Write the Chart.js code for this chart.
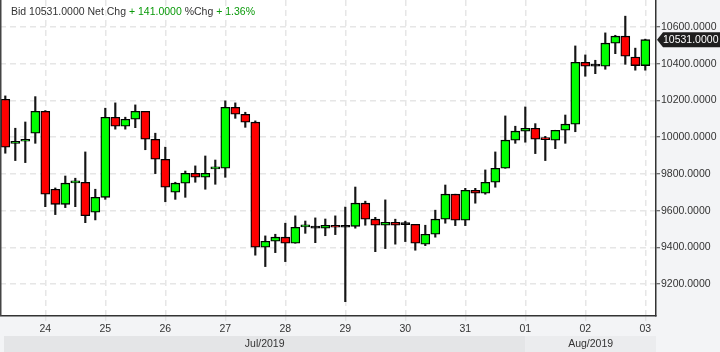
<!DOCTYPE html>
<html>
<head>
<meta charset="utf-8">
<script src="https://cdn.jsdelivr.net/npm/chart.js@4.4.1/dist/chart.umd.min.js"></script>
<style>
  html, body { margin: 0; padding: 0; background: #f3f4f6; }
  #chart { display: block; }
</style>
</head>
<body>
<canvas id="chart" width="720" height="352"></canvas>
<script>
// 4-hour candles, 23 Jul 08:00 .. 03 Aug 00:00
const opens  = [10207, 9967, 9978, 10022, 10141, 9717, 9635, 9752, 9755, 9592,
                9673, 10109, 10060, 10098, 10141, 9989, 9880, 9701, 9750, 9804,
                9782, 9828, 9831, 10163, 10125, 10082, 9401, 9434, 9456, 9423,
                9512, 9505, 9505, 9521, 9510, 9515, 9641, 9554, 9521, 9537,
                9524, 9526, 9418, 9472, 9554, 9690, 9548, 9711, 9695, 9755,
                9831, 9984, 10033, 10049, 9988, 9984, 10038, 10071, 10408, 10387,
                10387, 10512, 10550, 10436, 10390];
const highs  = [10225, 10049, 10083, 10221, 10145, 9724, 9789, 9777, 9920, 9717,
                10158, 10187, 10109, 10176, 10141, 10022, 9946, 9755, 9816, 9844,
                9898, 9876, 10198, 10187, 10136, 10089, 9463, 9472, 9532, 9572,
                9544, 9561, 9555, 9572, 9620, 9729, 9652, 9564, 9659, 9554,
                9543, 9526, 9521, 9603, 9740, 9690, 9722, 9722, 9822, 9920,
                10116, 10060, 10165, 10074, 10005, 10038, 10121, 10497, 10448, 10419,
                10568, 10555, 10659, 10485, 10534];
const lows   = [9913, 9873, 9862, 9967, 9622, 9579, 9617, 9622, 9535, 9550,
                9662, 10044, 10044, 10052, 9932, 9802, 9649, 9662, 9673, 9755,
                9717, 9744, 9782, 10103, 10054, 9358, 9296, 9372, 9323, 9423,
                9477, 9426, 9464, 9470, 9105, 9505, 9521, 9377, 9394, 9418,
                9432, 9385, 9410, 9456, 9532, 9519, 9519, 9641, 9690, 9728,
                9831, 9967, 9973, 9911, 9873, 9938, 9967, 10030, 10332, 10346,
                10370, 10455, 10397, 10365, 10365];
const closes = [9946, 9978, 9989, 10141, 9690, 9635, 9750, 9753, 9573, 9673,
                10109, 10060, 10098, 10141, 9989, 9880, 9728, 9750, 9804, 9782,
                9804, 9830, 10163, 10125, 10082, 9401, 9434, 9456, 9423, 9510,
                9514, 9505, 9521, 9510, 9510, 9641, 9554, 9521, 9537, 9521,
                9524, 9423, 9472, 9554, 9690, 9548, 9711, 9695, 9755, 9831,
                9984, 10033, 10049, 9989, 9987, 10038, 10071, 10408, 10387, 10387,
                10512, 10550, 10441, 10390, 10531];

const dayTicks  = [4, 10, 16, 22, 28, 34, 40, 46, 52, 58, 64];
const dayLabels = ['24', '25', '26', '27', '28', '29', '30', '31', '01', '02', '03'];
const priceTicks = [9200, 9400, 9600, 9800, 10000, 10200, 10400, 10600];
const months = ['Jul/2019', 'Aug/2019'];
const monthStart = [-0.5, 52];   // candle index where each month starts

const GREEN = '#00ff00';
const RED = '#ff0000';
const FONT = "'Liberation Sans', Arial, sans-serif";

Chart.defaults.font.family = FONT;
Chart.defaults.font.size = 10.5;
Chart.defaults.color = '#333';

const extras = {
  id: 'extras',
  beforeDraw(chart) {
    const ctx = chart.ctx;
    const a = chart.chartArea;
    const x = chart.scales.x;
    ctx.save();
    ctx.fillStyle = '#f3f4f6';
    ctx.fillRect(0, 0, chart.width, chart.height);
    ctx.fillStyle = '#ffffff';
    ctx.fillRect(a.left, a.top, a.right - a.left, a.bottom - a.top);
    // month bands
    const bandTop = a.bottom + 20;
    months.forEach((m, i) => {
      const x0 = i === 0 ? a.left + 4 : x.getPixelForValue(monthStart[i]);
      const x1 = i + 1 < months.length ? x.getPixelForValue(monthStart[i + 1]) : a.right;
      ctx.fillStyle = i === 0 ? '#e4e5e7' : '#ebecee';
      ctx.fillRect(x0, bandTop, x1 - x0, chart.height - bandTop);
      ctx.fillStyle = '#333';
      ctx.font = '10.5px ' + FONT;
      ctx.textAlign = 'center';
      ctx.textBaseline = 'middle';
      ctx.fillText(m, (x0 + x1) / 2, bandTop + 8);
    });
    ctx.restore();
  },
  afterDraw(chart) {
    const ctx = chart.ctx;
    const a = chart.chartArea;
    const y = chart.scales.y;
    ctx.save();
    // left border
    ctx.strokeStyle = '#444';
    ctx.lineWidth = 1.5;
    ctx.beginPath();
    ctx.moveTo(a.left + 0.75, a.top);
    ctx.lineTo(a.left + 0.75, a.bottom);
    ctx.stroke();

    // header
    const last = closes[closes.length - 1];
    const prev = closes[closes.length - 2];
    const chg = last - prev;
    const pct = chg / prev * 100;
    const parts = [
      ['Bid ' + last.toFixed(4) + ' Net Chg ', '#333'],
      ['+ ' + chg.toFixed(4), '#0a9a0a'],
      [' %Chg ', '#333'],
      ['+ ' + pct.toFixed(2) + '%', '#0a9a0a']
    ];
    ctx.font = '10.5px ' + FONT;
    ctx.textBaseline = 'alphabetic';
    ctx.textAlign = 'left';
    let tx = 11;
    parts.forEach(([t, c]) => {
      ctx.fillStyle = c;
      ctx.fillText(t, tx, 15);
      tx += ctx.measureText(t).width;
    });

    // last price tag
    const py = y.getPixelForValue(last);
    ctx.fillStyle = '#1e1e1e';
    ctx.beginPath();
    ctx.moveTo(a.right + 1, py);
    ctx.lineTo(a.right + 7, py - 7.5);
    ctx.lineTo(chart.width, py - 7.5);
    ctx.lineTo(chart.width, py + 7.5);
    ctx.lineTo(a.right + 7, py + 7.5);
    ctx.closePath();
    ctx.fill();
    ctx.fillStyle = '#ffffff';
    ctx.font = '10.5px ' + FONT;
    ctx.textBaseline = 'middle';
    ctx.fillText(last.toFixed(4), a.right + 7, py + 0.5);
    ctx.restore();
  }
};

const bodyColor = c => {
  const i = c.dataIndex;
  if (closes[i] > opens[i]) return GREEN;
  if (closes[i] < opens[i]) return RED;
  return '#111';
};

new Chart(document.getElementById('chart'), {
  type: 'bar',
  data: {
    datasets: [
      {
        label: 'body',
        data: opens.map((o, i) => ({ x: i, y: [o, closes[i]] })),
        backgroundColor: bodyColor,
        borderColor: '#000',
        borderWidth: 1.3,
        borderSkipped: false,
        barThickness: 9,
        minBarLength: 2,
        grouped: false
      },
      {
        label: 'wick',
        data: lows.map((l, i) => ({ x: i, y: [l, highs[i]] })),
        backgroundColor: '#151515',
        borderWidth: 0,
        barThickness: 1.5,
        grouped: false
      }
    ]
  },
  options: {
    responsive: false,
    animation: false,
    devicePixelRatio: 1,
    layout: { padding: 0 },
    plugins: { legend: { display: false }, tooltip: { enabled: false } },
    scales: {
      x: {
        type: 'linear',
        offset: false,
        min: -0.53,
        max: 65.07,
        afterBuildTicks: s => { s.ticks = dayTicks.map(v => ({ value: v })); },
        afterFit: s => { s.height = 36; s.paddingLeft = 0; s.paddingRight = 0; },
        ticks: {
          autoSkip: false,
          maxRotation: 0,
          padding: 2,
          callback: v => dayLabels[dayTicks.indexOf(v)] || ''
        },
        grid: {
          offset: false,
          color: '#e6e6e6',
          lineWidth: 1.5,
          tickColor: '#dcdcdc',
          tickLength: 5,
          tickWidth: 1
        },
        border: { display: true, color: '#333', width: 1.5, dash: [6, 4] }
      },
      y: {
        position: 'right',
        min: 9027,
        max: 10747,
        afterBuildTicks: s => { s.ticks = priceTicks.map(v => ({ value: v })); },
        afterFit: s => { s.width = 64; s.paddingTop = 0; s.paddingBottom = 0; },
        ticks: {
          padding: 1,
          callback: v => v.toFixed(4)
        },
        grid: {
          color: '#e6e6e6',
          lineWidth: 1.5,
          tickColor: '#444',
          tickLength: 4,
          tickWidth: 1
        },
        border: { display: true, color: '#333', width: 1.5, dash: [6, 4] }
      }
    }
  },
  plugins: [extras]
});
</script>
</body>
</html>
